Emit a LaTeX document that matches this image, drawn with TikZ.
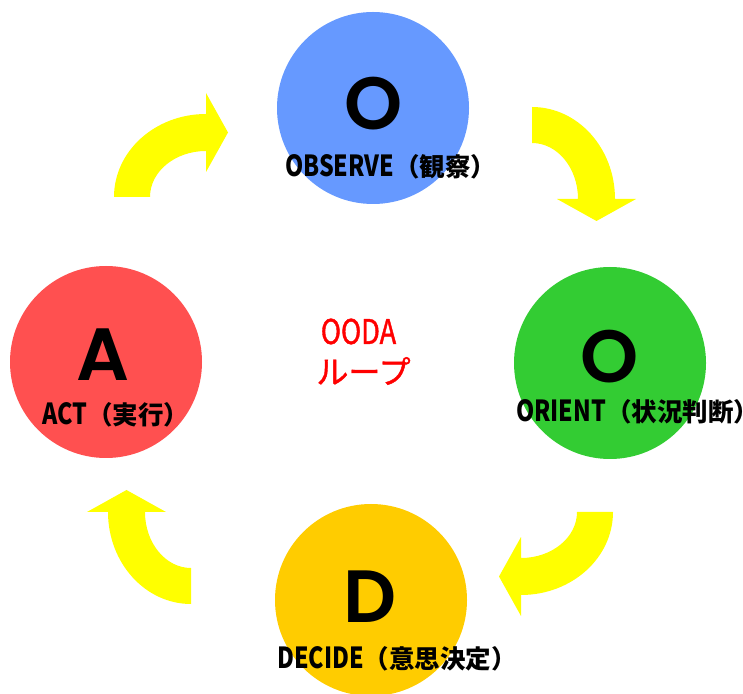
\documentclass[tikz,border=0pt]{standalone}
\usepackage{fontspec}
\setmainfont{Liberation Sans}
\newfontfamily\letterfont{Poppins}[UprightFont=* SemiBold]
\newfontfamily\jpfont{Noto Sans CJK JP}
\newfontfamily\narrowfont{Noto Sans CJK JP}[FakeStretch=0.8]
\newfontfamily\loopfont{Noto Sans CJK JP}[FakeBold=1.2]
\newfontfamily\narrowloopfont{Noto Sans CJK JP}[FakeStretch=0.8, FakeBold=1.2]
\definecolor{observeblue}{HTML}{6699FF}
\definecolor{orientgreen}{HTML}{33CC33}
\definecolor{decideorange}{HTML}{FFCC00}
\definecolor{actred}{HTML}{FF5050}
\definecolor{loopyellow}{HTML}{FFFF00}
\newcommand{\stagename}[2]{{\narrowfont\fontsize{29}{29}\selectfont #1}#2}
\tikzset{
    stage/.style={circle, minimum size=192pt, inner sep=0pt},
    stage letter/.style={font=\letterfont\fontsize{74}{74}\selectfont, inner sep=0pt},
    stage label/.style={font=\jpfont\fontsize{25.5}{25.5}\selectfont\bfseries, inner sep=0pt, anchor=west},
    loop text/.style={text=red, inner sep=0pt},
    % one quarter-turn arrow, corner of the bend at the origin
    pics/bend arrow/.style={
        code={
            \fill[loopyellow] (-92,0) arc[start angle=180, end angle=90, x radius=92, y radius=83]
                -- (0,104) -- (22,64.5) -- (0,25) -- (0,46)
                arc[start angle=90, end angle=180, x radius=56, y radius=46] -- cycle;
        }
    }
}
\begin{document}
\begin{tikzpicture}[x=1pt, y=1pt]
    \useasboundingbox (0,0) rectangle (743,693);

    % the four stages
    \node[stage, fill=observeblue] (observe) at (373,585) {};
    \node[stage, fill=orientgreen] (orient) at (610,330) {};
    \node[stage, fill=decideorange] (decide) at (371,93) {};
    \node[stage, fill=actred] (act) at (106,331) {};

    \node[stage letter] (observe letter) at (373.5,589.5) {O};
    \node[stage letter] (orient letter) at (610,336) {O};
    \node[stage letter] (decide letter) at (370,96.5) {D};
    \node[stage letter] (act letter) at (103,338.5) {A};

    \node[stage label] (observe label) at (285,526) {\stagename{OBSERVE}{（観察）}};
    \node[stage label] (orient label) at (516,281) {\stagename{ORIENT}{（状況判断）}};
    \node[stage label] (decide label) at (277,34) {\stagename{DECIDE}{（意思決定）}};
    \node[stage label] (act label) at (42,278) {\stagename{ACT}{（実行）}};

    % the cycle
    \pic at (206,496) {bend arrow};
    \pic[rotate=-90] at (532,494) {bend arrow};
    \pic[rotate=180] at (521,181) {bend arrow};
    \pic[rotate=90] at (191,181) {bend arrow};

    \node[loop text, font=\narrowloopfont\fontsize{34}{34}\selectfont] (ooda) at (358.5,361.5) {OODA};
    \node[loop text, font=\loopfont\fontsize{32}{32}\selectfont] (loop) at (363.5,322) {ループ};
\end{tikzpicture}
\end{document}
